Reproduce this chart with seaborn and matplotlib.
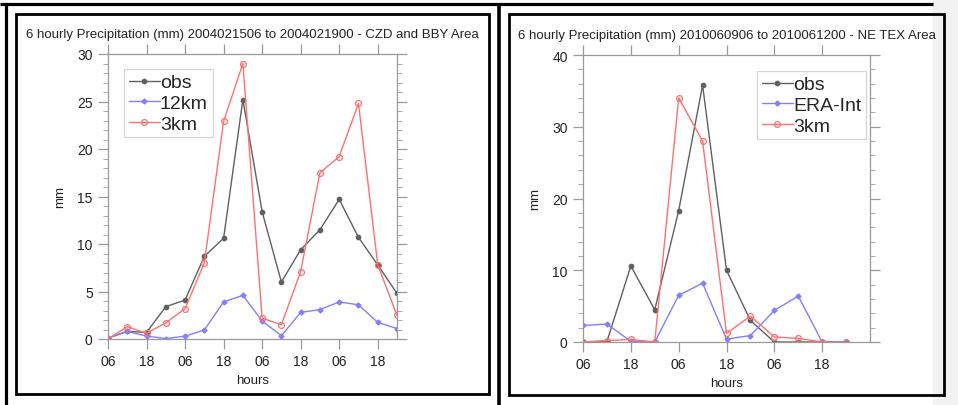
import numpy as np
import pandas as pd
import matplotlib
matplotlib.use('Agg')
import matplotlib.pyplot as plt
import seaborn as sns
from matplotlib.ticker import MultipleLocator

# Data
hours_a = ['06', '', '18', '', '06', '', '18', '', '06', '', '18', '', '06', '', '18', '']
obs_a = [0.1, 0.8, 0.7, 3.4, 4.1, 8.7, 10.6, 25.2, 13.4, 6.0, 9.4, 11.5, 14.7, 10.7, 7.8, 4.8]
km12_a = [0.1, 0.8, 0.3, 0.05, 0.3, 0.95, 3.9, 4.6, 1.9, 0.35, 2.8, 3.1, 3.9, 3.6, 1.75, 1.1]
km3_a = [0.0, 1.3, 0.6, 1.7, 3.2, 8.0, 22.9, 29.0, 2.2, 1.5, 7.1, 17.5, 19.2, 24.8, 7.8, 2.5]

hours_b = ['06', '', '18', '', '06', '', '18', '', '06', '', '18', '']
obs_b = [0.0, 0.05, 10.6, 4.5, 18.3, 35.8, 10.0, 3.0, 0.0, 0.0, 0.0, 0.0]
era_b = [2.3, 2.5, 0.1, 0.0, 6.5, 8.2, 0.4, 0.9, 4.4, 6.4, 0.0, 0.0]
km3_b = [0.0, 0.2, 0.35, 0.0, 34.0, 28.0, 1.2, 3.6, 0.7, 0.5, 0.0, 0.0]

title_a = '6 hourly Precipitation (mm) 2004021506 to 2004021900 - CZD and BBY Area'
title_b = '6 hourly Precipitation (mm) 2010060906 to 2010061200 - NE TEX Area'

sns.set_style('white')
plt.rcParams['font.family'] = ['Liberation Sans', 'DejaVu Sans']

W, H = 958, 406
fig = plt.figure(figsize=(W / 100, H / 100), dpi=100)

# page decorations (table borders, grey margin)
deco = fig.add_axes([0, 0, 1, 1], zorder=-1)
deco.set_xlim(0, W)
deco.set_ylim(H, 0)
deco.axis('off')
deco.add_patch(plt.Rectangle((933, 0), W - 933, H, color='#f2f2f2', lw=0))
deco.plot([0, 933], [5, 5], color='black', lw=2.3, solid_capstyle='butt')
deco.plot([6.5, 6.5], [3.5, H], color='black', lw=2.3, solid_capstyle='butt')
deco.plot([499, 499], [3.5, H], color='black', lw=2.6, solid_capstyle='butt')
deco.add_patch(plt.Rectangle((16.5, 15), 473, 380, fill=False, ec='black', lw=2.0))
deco.add_patch(plt.Rectangle((509.5, 15), 434.5, 380.5, fill=False, ec='black', lw=2.0))

colors = {'obs': '#606060', 'blue': '#8080ff', 'red': '#ff7070'}


def panel(rect, hours, series, title, ymax, major, minor, leg_loc, leg_anchor):
    ax = fig.add_axes(rect)
    x = np.arange(len(hours))
    for name, vals, col, mk, mfc, ms in series:
        df = pd.DataFrame({'x': x, 'y': vals})
        sns.lineplot(data=df, x='x', y='y', ax=ax, color=col, lw=1.0,
                     marker=mk, markersize=ms, markerfacecolor=mfc,
                     markeredgecolor=col, markeredgewidth=0.9, label=name)
    ax.set_xlim(0, len(hours) if len(hours) == 12 else len(hours) - 1)
    ax.set_ylim(0, ymax)
    ax.set_xticks(x[::2])
    ax.set_xticklabels(hours[::2])
    ax.yaxis.set_major_locator(MultipleLocator(major))
    ax.yaxis.set_minor_locator(MultipleLocator(minor))
    for s in ax.spines.values():
        s.set_color('#999999')
        s.set_linewidth(0.9)
    ax.tick_params(axis='both', which='major', direction='out', length=7,
                   width=0.9, color='#999999', labelsize=10, labelcolor='#222222',
                   top=True, right=True, bottom=True, left=True, pad=4)
    ax.tick_params(axis='y', which='minor', direction='out', length=3.5,
                   width=0.7, color='#aaaaaa', left=True, right=True)
    ax.set_xlabel('hours', fontsize=9.5, color='#222222', labelpad=4)
    ax.set_ylabel('mm', fontsize=9.5, color='#222222', labelpad=8)
    ax.set_title(title, fontsize=9.5, color='#222222', pad=12)
    leg = ax.legend(loc=leg_loc, bbox_to_anchor=leg_anchor, borderaxespad=0,
                    fontsize=14, frameon=True, fancybox=False, handlelength=1.6,
                    handletextpad=0.0, labelspacing=0.15, borderpad=0.25)
    leg.get_frame().set_edgecolor('#cccccc')
    leg.get_frame().set_linewidth(0.9)
    return ax


panel([108 / W, 1 - 340 / H, 289 / W, 285 / H], hours_a,
      [('obs', obs_a, colors['obs'], 'o', colors['obs'], 3.2),
       ('12km', km12_a, colors['blue'], 'D', colors['blue'], 2.6),
       ('3km', km3_a, colors['red'], 'o', 'none', 4.2)],
      title_a, 30, 5, 1, 'upper left', (16 / 289, 1 - 15 / 285))

panel([583 / W, 1 - 343 / H, 287 / W, 287 / H], hours_b,
      [('obs', obs_b, colors['obs'], 'o', colors['obs'], 3.2),
       ('ERA-Int', era_b, colors['blue'], 'D', colors['blue'], 2.6),
       ('3km', km3_b, colors['red'], 'o', 'none', 4.2)],
      title_b, 40, 10, 2, 'upper right', (1 - 4 / 287, 1 - 16 / 287))

fig.savefig('out.png', dpi=100)
